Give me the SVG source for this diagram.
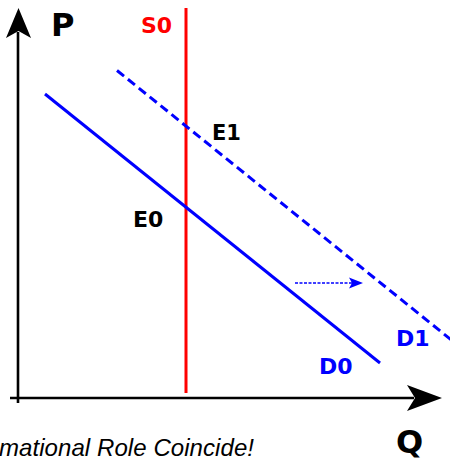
<svg xmlns="http://www.w3.org/2000/svg" width="450" height="462" viewBox="0 0 450 462">
<style>
.lbl{font-family:"DejaVu Sans",sans-serif;font-weight:bold}
.blue{fill:#0000ff}
.axis{stroke:#000;stroke-width:2.6;fill:none}
</style>
<rect width="450" height="462" fill="#fff"/>
<g id="axes">
<line class="axis" x1="18" y1="403" x2="18" y2="32"/>
<path d="M18.5,8 L31,38 L18.5,31 L6,38 Z" fill="#000"/>
<line class="axis" x1="10" y1="398" x2="414" y2="398"/>
<path d="M442,398 L407,385 L415,398 L407,411 Z" fill="#000"/>
</g>
<g id="connectors">
<line id="S0-line" x1="186" y1="8" x2="186" y2="393" stroke="#ff0000" stroke-width="3"/>
<line id="D0-line" x1="45" y1="94" x2="380" y2="363" stroke="#0000ff" stroke-width="3"/>
<line id="D1-line" x1="117" y1="70.5" x2="452" y2="340.5" stroke="#0000ff" stroke-width="3" stroke-dasharray="9,5"/>
<line id="shift" x1="295" y1="283" x2="352" y2="283" stroke="#0000ff" stroke-width="1.3" stroke-dasharray="3,1.5"/>
<path d="M363,283 L349,277.5 L352,283 L349,288.5 Z" fill="#0000ff"/>
</g>
<g id="P"><text class="lbl" x="51" y="36" font-size="32">P</text></g>
<g id="Q"><text class="lbl" x="396" y="453" font-size="32">Q</text></g>
<g id="S0"><text class="lbl" x="141" y="33" font-size="22" fill="#ff0000">S0</text></g>
<g id="E1"><text class="lbl" x="212" y="140" font-size="21">E1</text></g>
<g id="E0"><text class="lbl" x="133" y="227" font-size="22">E0</text></g>
<g id="D1"><text class="lbl blue" x="396" y="346" font-size="22">D1</text></g>
<g id="D0"><text class="lbl blue" x="319" y="374" font-size="22">D0</text></g>
<g id="caption"><text x="-1" y="456" font-size="24" font-style="italic" textLength="255" lengthAdjust="spacing" font-family="'Liberation Sans',sans-serif" fill="#000">mational Role Coincide!</text></g>
</svg>
